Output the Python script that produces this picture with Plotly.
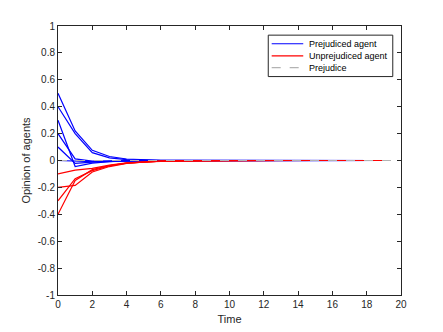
import plotly.graph_objects as go

time = list(range(20))

prejudiced = [
    [0.5, 0.22, 0.076, 0.03, 0.011, 0.004, 0.002, 0.001, 0.0005, 0.0002] + [0.0] * 10,
    [0.4, 0.20, 0.058, 0.02, 0.006, 0.002, 0.001, 0.0005, 0.0002, 0.0001] + [0.0] * 10,
    [0.3, -0.045, -0.02, -0.008, -0.003, -0.001, -0.0005, -0.0002, 0.0, 0.0] + [0.0] * 10,
    [0.2, 0.012, -0.004, -0.004, -0.002, -0.001, -0.0005, -0.0002, 0.0, 0.0] + [0.0] * 10,
    [0.1, -0.022, -0.012, -0.006, -0.003, -0.0015, -0.0007, -0.0003, 0.0, 0.0] + [0.0] * 10,
    [0.0, -0.006, -0.008, -0.005, -0.002, -0.001, -0.0005, -0.0002, 0.0, 0.0] + [0.0] * 10,
]

unprejudiced = [
    [-0.1, -0.072, -0.058, -0.034, -0.018, -0.009, -0.005, -0.003, -0.002, -0.001] + [0.0] * 10,
    [-0.2, -0.185, -0.085, -0.045, -0.022, -0.011, -0.006, -0.003, -0.0015, -0.0008] + [0.0] * 10,
    [-0.3, -0.135, -0.075, -0.040, -0.020, -0.010, -0.005, -0.0025, -0.0012, -0.0006] + [0.0] * 10,
    [-0.4, -0.148, -0.068, -0.037, -0.019, -0.0095, -0.005, -0.0025, -0.0012, -0.0006] + [0.0] * 10,
]

prejudice_x = [0, 20]
prejudice_y = [0, 0]

x_ticks = list(range(0, 21, 2))
y_ticks = [-1, -0.8, -0.6, -0.4, -0.2, 0, 0.2, 0.4, 0.6, 0.8, 1]
y_ticktext = ["-1", "-0.8", "-0.6", "-0.4", "-0.2", "0", "0.2", "0.4", "0.6", "0.8", "1"]

legend_names = ["Prejudiced agent", "Unprejudiced agent", "Prejudice"]
legend_colors = ["#0000ff", "#ff0000", "#b3b3b3"]
legend_dash = ["solid", "solid", "dash"]

fig = go.Figure()
for i, ys in enumerate(prejudiced):
    fig.add_trace(go.Scatter(x=time, y=ys, mode="lines",
                             line=dict(color=legend_colors[0], width=1.2),
                             name=legend_names[0], showlegend=False))
for i, ys in enumerate(unprejudiced):
    fig.add_trace(go.Scatter(x=time, y=ys, mode="lines",
                             line=dict(color=legend_colors[1], width=1.2),
                             name=legend_names[1], showlegend=False))
fig.add_trace(go.Scatter(x=prejudice_x, y=prejudice_y, mode="lines",
                         line=dict(color=legend_colors[2], width=1.2, dash="dash"),
                         name=legend_names[2], showlegend=False))

# MATLAB-style compact legend drawn in paper coordinates
box_x0, box_x1, box_y0, box_y1 = 0.613, 0.976, 0.812, 0.966
row_y = [0.934, 0.889, 0.845]
line_x0, line_x1, text_x = 0.623, 0.715, 0.727

shapes = [dict(type="rect", xref="paper", yref="paper",
               x0=box_x0, x1=box_x1, y0=box_y0, y1=box_y1,
               line=dict(color="#262626", width=1), fillcolor="white", layer="above")]
annotations = []
for name, col, dash, yy in zip(legend_names, legend_colors, legend_dash, row_y):
    shapes.append(dict(type="line", xref="paper", yref="paper",
                       x0=line_x0, x1=line_x1, y0=yy, y1=yy,
                       line=dict(color=col, width=1.2, dash=dash), layer="above"))
    annotations.append(dict(xref="paper", yref="paper", x=text_x, y=yy,
                            text=name, showarrow=False, xanchor="left", yanchor="middle",
                            font=dict(size=9, color="#000000")))

axis_common = dict(showgrid=False, zeroline=False, showline=True, mirror="ticks",
                   linecolor="#262626", linewidth=1, ticks="inside", ticklen=4,
                   tickcolor="#262626", tickfont=dict(size=10, color="#262626"))

fig.update_layout(
    width=435, height=324,
    margin=dict(l=50, r=42, t=18, b=37, autoexpand=False),
    paper_bgcolor="white", plot_bgcolor="white",
    font=dict(family="Liberation Sans, Arial, sans-serif", color="#262626"),
    xaxis=dict(range=[0, 20], tickvals=x_ticks,
               title=dict(text="Time", font=dict(size=11), standoff=6),
               **axis_common),
    yaxis=dict(range=[-1, 1], tickvals=y_ticks, ticktext=y_ticktext,
               title=dict(text="Opinion of agents", font=dict(size=11), standoff=4),
               **axis_common),
    shapes=shapes,
    annotations=annotations,
    showlegend=False,
)

fig.write_html("out.html")
